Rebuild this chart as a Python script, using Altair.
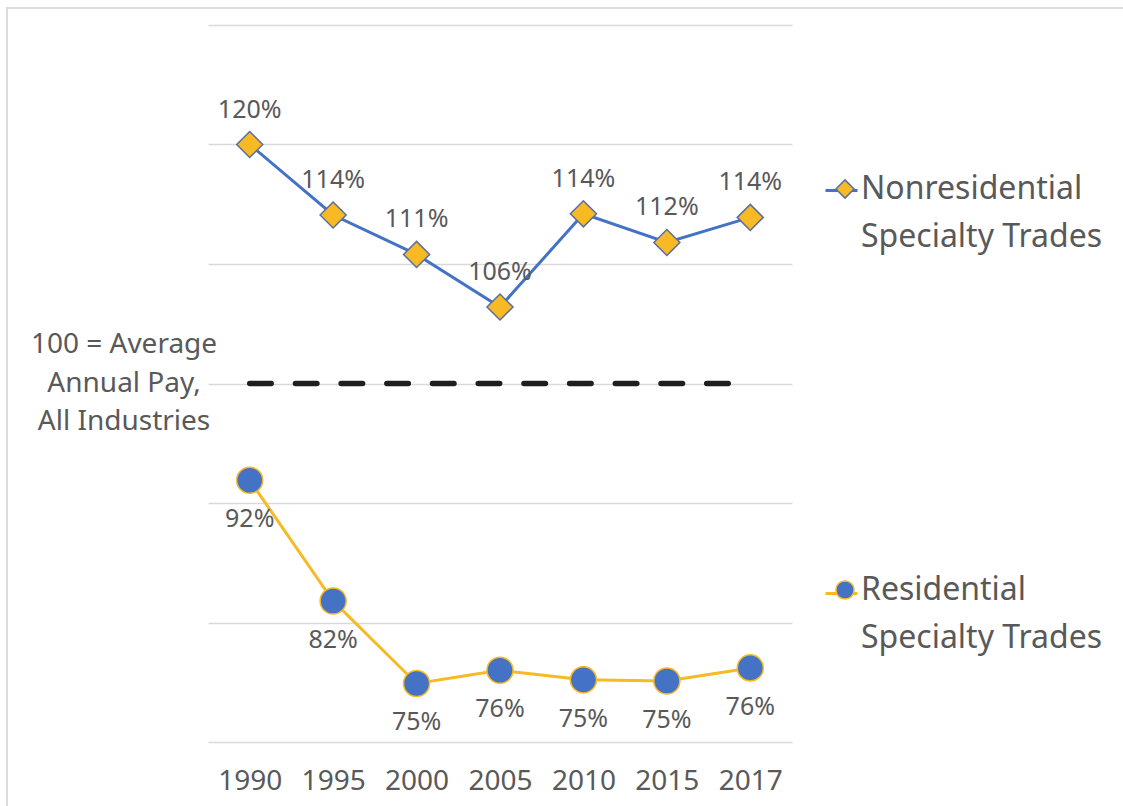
import altair as alt
import pandas as pd

# ---- data ----
years = ["1990", "1995", "2000", "2005", "2010", "2015", "2017"]
nonresidential = [120.0, 114.1, 110.8, 106.4, 114.2, 111.8, 113.9]
residential = [91.9, 81.8, 74.9, 76.0, 75.2, 75.1, 76.2]
series_names = ["Nonresidential Specialty Trades", "Residential Specialty Trades"]
reference_value = 100
reference_label = "100 = Average\nAnnual Pay,\nAll Industries"
y_ticks = [70, 80, 90, 100, 110, 120, 130]

# ---- styles ----
FONT = "Noto Sans"
GRAY = "#595959"
BLUE = "#4472C4"
GOLD = "#F7B924"
DIAMOND_EDGE = "#5B6E9E"
GRID = "#D9D9D9"

df = pd.DataFrame({
    "year": years * 2,
    "series": [series_names[0]] * len(years) + [series_names[1]] * len(years),
    "value": nonresidential + residential,
})
df["series_l"] = df["series"]

ref_df = pd.DataFrame({"year": years, "value": [reference_value] * len(years)})
ann_df = pd.DataFrame({"value": [reference_value], "t": [reference_label]})
frame_df = pd.DataFrame({"k": [0]})

label_expr = ("[slice(datum.label, 0, indexof(datum.label, ' ')), "
              "slice(datum.label, indexof(datum.label, ' ') + 1)]")

legend_common = dict(
    orient="none", title=None, labelFont=FONT,
    labelFontSize=32, labelColor=GRAY, labelLimit=500, padding=0,
    rowPadding=321, legendY=148,
)

x_enc = alt.X(
    "year:N", sort=years,
    scale=alt.Scale(type="point", padding=0.5),
    axis=alt.Axis(title=None, domain=False, ticks=False, grid=False,
                  labelAngle=0, labelFont=FONT, labelFontSize=28,
                  labelColor=GRAY, labelPadding=25),
)
y_enc = alt.Y(
    "value:Q",
    scale=alt.Scale(domain=[y_ticks[0], y_ticks[-1]], nice=False, zero=False),
    axis=alt.Axis(title=None, values=y_ticks, labels=False, ticks=False,
                  domain=False, grid=True, gridColor=GRID, gridWidth=1.5),
)

base = alt.Chart(df)

frame = alt.Chart(frame_df).mark_rect(
    fillOpacity=0, stroke="#DDDDDD", strokeWidth=2
).encode(
    x=alt.value(-201), x2=alt.value(960), y=alt.value(-17), y2=alt.value(800)
)

ref_line = alt.Chart(ref_df).mark_line(
    color="#1F1F1F", strokeWidth=5.5, strokeDash=[21.5, 24.2], strokeCap="round"
).encode(x=x_enc, y=y_enc)

annotation = alt.Chart(ann_df).mark_text(
    align="center", baseline="middle", lineBreak="\n", font=FONT,
    fontSize=28, lineHeight=38.5, dy=-38.5, color=GRAY
).encode(x=alt.value(-84), y=y_enc, text="t:N")

lines = base.mark_line(strokeWidth=3).encode(
    x=x_enc, y=y_enc,
    color=alt.Color(
        "series_l:N",
        scale=alt.Scale(range=[BLUE, GOLD]),
        legend=alt.Legend(symbolType="stroke", symbolSize=1024,
                          symbolStrokeWidth=3, labelOpacity=0,
                          labelExpr="['', '']",
                          legendX=616, zindex=0, **legend_common),
    ),
)

pt_legend = alt.Legend(symbolSize=330, symbolStrokeWidth=1.5, labelOffset=0,
                       labelExpr=label_expr,
                       legendX=621, zindex=1, **legend_common)

points = base.mark_point(filled=True, opacity=1, size=680, strokeWidth=1.5).encode(
    x=x_enc, y=y_enc,
    shape=alt.Shape("series:N", scale=alt.Scale(domain=series_names,
                                                range=["diamond", "circle"]),
                    legend=pt_legend),
    fill=alt.Fill("series:N", scale=alt.Scale(domain=series_names,
                                              range=[GOLD, BLUE]),
                  legend=pt_legend),
    stroke=alt.Stroke("series:N", scale=alt.Scale(domain=series_names,
                                                  range=[DIAMOND_EDGE, GOLD]),
                      legend=pt_legend),
)

labels_top = base.transform_filter(
    alt.datum.series == series_names[0]
).transform_calculate(
    label="format(datum.value, '.0f') + '%'"
).mark_text(dy=-35, font=FONT, fontSize=25, color=GRAY).encode(
    x=x_enc, y=y_enc, text="label:N"
)

labels_bottom = base.transform_filter(
    alt.datum.series == series_names[1]
).transform_calculate(
    label="format(datum.value, '.0f') + '%'"
).mark_text(dy=39, font=FONT, fontSize=25, color=GRAY).encode(
    x=x_enc, y=y_enc, text="label:N"
)

chart = alt.layer(
    frame, ref_line, annotation, lines, points, labels_top, labels_bottom
).properties(
    width=584, height=717,
    padding={"left": 208, "top": 25, "right": 331, "bottom": 64},
    autosize=alt.AutoSizeParams(type="none"),
    background="white",
).configure(
    view=alt.ViewConfig(stroke="transparent"),
    style={"guide-label": {"lineHeight": 48}},
)

chart.save("out.html", embed_options={"renderer": "svg", "actions": False})
